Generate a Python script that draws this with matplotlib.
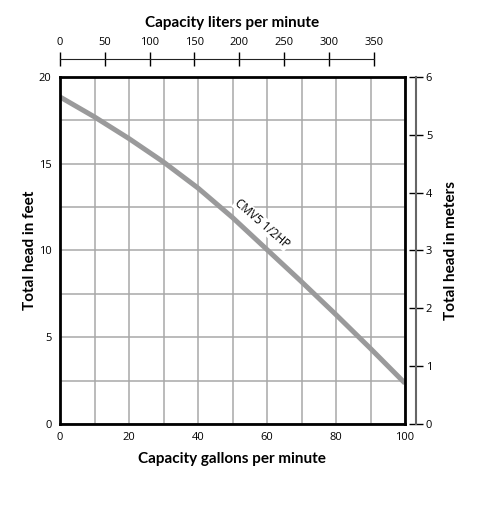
import matplotlib
matplotlib.use('Agg')
import matplotlib.pyplot as plt

# pump curve
gpm = [0, 10, 20, 30, 40, 50, 60, 70, 80, 90, 100]
head_ft = [18.85, 17.7, 16.45, 15.1, 13.6, 11.9, 10.05, 8.2, 6.3, 4.35, 2.35]
curve_label = 'CMV5 1/2HP'

gpm_ticks = [0, 20, 40, 60, 80, 100]
ft_ticks = [0, 5, 10, 15, 20]
lpm_ticks = [0, 50, 100, 150, 200, 250, 300, 350]
m_ticks = [0, 1, 2, 3, 4, 5, 6]
lpm_max = 385
m_max = 6

title_font = ['Lato', 'DejaVu Sans']
tick_font = ['Open Sans', 'DejaVu Sans']

fig = plt.figure(figsize=(4.97, 5.14), dpi=100)
ax = fig.add_axes([60 / 497, 90 / 514, 345 / 497, 347 / 514])

ax.plot(gpm, head_ft, color='#9a9a9b', lw=3.6, solid_capstyle='butt',
        solid_joinstyle='round', zorder=3)
ax.set_xlim(0, 100)
ax.set_ylim(0, 20)
ax.set_xticks(gpm_ticks)
ax.set_xticks(range(0, 101, 10), minor=True)
ax.set_yticks(ft_ticks)
ax.set_yticks([i * 2.5 for i in range(9)], minor=True)
ax.grid(True, which='both', color='#a8a8a8', lw=1.1)
ax.tick_params(length=0, which='both', labelsize=8, pad=6)
for lab in ax.get_xticklabels() + ax.get_yticklabels():
    lab.set_family(tick_font)
for s in ax.spines.values():
    s.set_linewidth(2)
    s.set_color('black')
    s.set_zorder(5)

ax.text(58.6, 11.55, curve_label, rotation=-41, rotation_mode='anchor',
        ha='center', va='center', fontsize=8.5, family=tick_font,
        bbox=dict(facecolor='white', edgecolor='none', pad=0.5), zorder=4)

# top axis: liters per minute
top = ax.twiny()
top.set_xlim(0, lpm_max)
top.set_xticks(lpm_ticks)
top.spines['top'].set_position(('outward', 13))
top.spines['top'].set_bounds(0, 350)
top.spines['top'].set_color('#222222')
for k in ['left', 'right', 'bottom']:
    top.spines[k].set_visible(False)
top.tick_params(axis='x', direction='inout', length=10, width=1, labelsize=8, pad=3)
for lab in top.get_xticklabels():
    lab.set_family(tick_font)

# right axis: meters
right = ax.twinx()
right.set_ylim(0, m_max)
right.set_yticks(m_ticks)
right.spines['right'].set_position(('outward', 8))
right.spines['right'].set_color('#666666')
right.spines['right'].set_linewidth(1.5)
for k in ['left', 'top', 'bottom']:
    right.spines[k].set_visible(False)
right.tick_params(axis='y', direction='inout', length=10, width=1, labelsize=8, pad=2)
for lab in right.get_yticklabels():
    lab.set_family(tick_font)

fig.text(232 / 497, 1 - 23 / 514, 'Capacity liters per minute', ha='center', va='center',
         fontsize=11, fontweight='bold', family=title_font)
fig.text(232 / 497, 1 - 459 / 514, 'Capacity gallons per minute', ha='center', va='center',
         fontsize=11, fontweight='bold', family=title_font)
fig.text(30 / 497, 1 - 250 / 514, 'Total head in feet', ha='center', va='center',
         rotation=90, fontsize=11, fontweight='bold', family=title_font)
fig.text(451 / 497, 1 - 250 / 514, 'Total head in meters', ha='center', va='center',
         rotation=90, fontsize=11, fontweight='bold', family=title_font)

fig.savefig('out.png', dpi=100)
